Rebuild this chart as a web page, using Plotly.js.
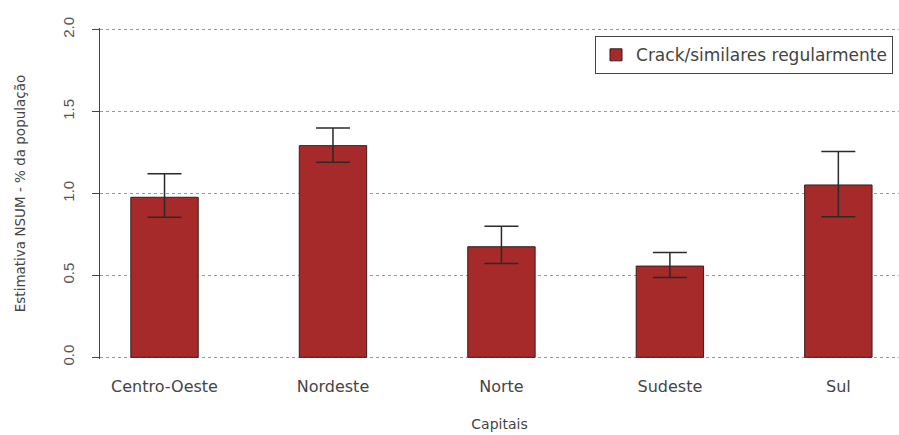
<!DOCTYPE html>
<html>
<head>
<meta charset="utf-8">
<script src="https://cdn.plot.ly/plotly-3.0.1.min.js"></script>
<style>html,body{margin:0;padding:0;background:#fff;}#chart{width:899px;height:435px;}</style>
</head>
<body>
<div id="chart"></div>
<script>
const categories = ["Centro-Oeste", "Nordeste", "Norte", "Sudeste", "Sul"];
const values = [0.977, 1.292, 0.675, 0.557, 1.052];
const upper = [1.12, 1.40, 0.80, 0.64, 1.256];
const lower = [0.855, 1.19, 0.573, 0.487, 0.858];
const seriesName = "Crack/similares regularmente";
const yTicks = [0, 0.5, 1.0, 1.5, 2.0];
const yTickText = ["0.0", "0.5", "1.0", "1.5", "2.0"];

const errPlus = values.map((v, i) => upper[i] - v);
const errMinus = values.map((v, i) => v - lower[i]);

const trace = {
  type: "bar",
  x: categories.map((c, i) => i),
  y: values,
  name: seriesName,
  width: 0.4,
  marker: {color: "#A62A2A", line: {color: "#3b1b1b", width: 1}},
  error_y: {type: "data", symmetric: false, array: errPlus, arrayminus: errMinus,
            color: "#2a2a2a", thickness: 1.5, width: 17},
  showlegend: true
};

const layout = {
  width: 899, height: 435,
  margin: {l: 100, r: 0, t: 28.4, b: 76.4},
  paper_bgcolor: "#fff", plot_bgcolor: "#fff",
  font: {family: "DejaVu Sans, Liberation Sans, sans-serif", color: "#444"},
  xaxis: {
    range: [-0.383, 4.36],
    tickmode: "array", tickvals: categories.map((c, i) => i), ticktext: categories,
    showgrid: false, zeroline: false, showline: false, ticks: "",
    ticklabelstandoff: 16,
    tickfont: {size: 16, color: "#444"},
    title: {text: "Capitais", font: {size: 14, color: "#444"}, standoff: 24}
  },
  yaxis: {
    range: [-0.01, 2.01],
    tickmode: "array", tickvals: yTicks, ticktext: yTickText,
    tickangle: -90,
    showgrid: true, gridcolor: "#999", griddash: "dot", gridwidth: 1,
    zeroline: false,
    showline: true, linecolor: "#444", linewidth: 1,
    ticks: "outside", ticklen: 7, tickcolor: "#444",
    ticklabelstandoff: 12,
    tickfont: {size: 15, color: "#555", family: "Liberation Sans, Arial, sans-serif"},
    title: {text: "Estimativa NSUM - % da população", font: {size: 13.5, color: "#444"}, standoff: 31}
  },
  legend: {
    x: 0.9925, xanchor: "right", y: 0.975, yanchor: "top",
    bordercolor: "#444", borderwidth: 1, bgcolor: "#fff",
    font: {size: 17, color: "#444"},
    tracegroupgap: 0
  },
  bargap: 0.6
};

Plotly.newPlot("chart", [trace], layout, {displayModeBar: false, staticPlot: true});
</script>
</body>
</html>
